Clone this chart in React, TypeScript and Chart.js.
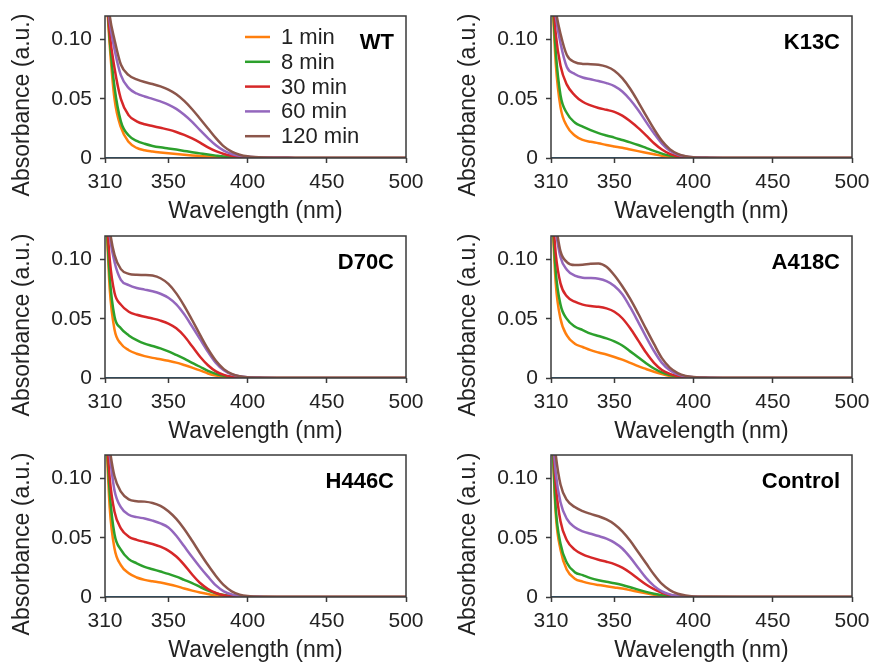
import React, { useEffect, useRef } from 'react';
import { Chart, registerables } from 'chart.js';
Chart.register(...registerables);

const wavelengths = [310, 313, 316, 320, 325, 330, 335, 340, 345, 350, 355, 360, 365, 370, 375, 380, 385, 390, 395, 400, 410, 430, 460, 500];
const xTicks = [310, 350, 400, 450, 500];
const yTicks = [0, 0.05, 0.1];
const yTickLabels = ['0', '0.05', '0.10'];
const seriesLabels = ['1 min', '8 min', '30 min', '60 min', '120 min'];
const seriesColors = ['#ff7f0e', '#2ca02c', '#d62728', '#9467bd', '#8c564b'];
const baselineColor = '#1f77b4';
const panelNames = ['WT', 'K13C', 'D70C', 'A418C', 'H446C', 'Control'];
const xTitle = 'Wavelength (nm)';
const yTitle = 'Absorbance (a.u.)';

const baseline = [0, 0, 0, 0, 0, 0, 0, 0, 0, 0, 0, 0, 0, 0, 0, 0, 0, 0, 0, 0, 0, 0, 0, 0];

const wt1 = [0.16, 0.095, 0.05, 0.026, 0.0135, 0.0085, 0.0065, 0.0055, 0.0047, 0.004, 0.0034, 0.0028, 0.0022, 0.0017, 0.0012, 0.0008, 0.0005, 0.0003, 0.0002, 0.0001, 0.0001, 0, 0, 0];
const wt8 = [0.16, 0.1, 0.06, 0.031, 0.019, 0.0145, 0.012, 0.0102, 0.009, 0.0081, 0.0071, 0.006, 0.0049, 0.0039, 0.0029, 0.002, 0.0012, 0.0007, 0.0004, 0.0002, 0.0001, 0, 0, 0];
const wt30 = [0.16, 0.105, 0.076, 0.05, 0.036, 0.031, 0.0285, 0.027, 0.0255, 0.024, 0.022, 0.0195, 0.0165, 0.013, 0.009, 0.0058, 0.0034, 0.0019, 0.001, 0.0005, 0.0002, 0.0001, 0, 0];
const wt60 = [0.16, 0.115, 0.092, 0.07, 0.059, 0.0545, 0.052, 0.05, 0.0478, 0.0452, 0.0415, 0.0365, 0.0305, 0.0235, 0.0168, 0.0107, 0.0062, 0.0034, 0.0018, 0.001, 0.0003, 0.0001, 0, 0];
const wt120 = [0.16, 0.12, 0.1, 0.079, 0.07, 0.0665, 0.0642, 0.0625, 0.0605, 0.0578, 0.0538, 0.0482, 0.0412, 0.0332, 0.025, 0.0168, 0.0098, 0.0053, 0.0028, 0.0014, 0.0004, 0.0001, 0, 0];

const k1 = [0.16, 0.08, 0.043, 0.027, 0.019, 0.0153, 0.0137, 0.0125, 0.011, 0.0098, 0.0087, 0.0072, 0.0058, 0.0045, 0.0032, 0.0018, 0.0009, 0.0004, 0.0002, 0.0001, 0, 0, 0, 0];
const k8 = [0.16, 0.09, 0.053, 0.038, 0.03, 0.0265, 0.0235, 0.021, 0.019, 0.0172, 0.0152, 0.0132, 0.011, 0.0085, 0.006, 0.0037, 0.002, 0.001, 0.0005, 0.0002, 0.0001, 0, 0, 0];
const k30 = [0.16, 0.105, 0.078, 0.062, 0.053, 0.0475, 0.0445, 0.0423, 0.0407, 0.039, 0.0358, 0.031, 0.0255, 0.0192, 0.0125, 0.0072, 0.0035, 0.0015, 0.0006, 0.0003, 0.0001, 0, 0, 0];
const k60 = [0.16, 0.12, 0.097, 0.077, 0.071, 0.068, 0.0665, 0.065, 0.0633, 0.0608, 0.0562, 0.0492, 0.0405, 0.0305, 0.0208, 0.0122, 0.0062, 0.0028, 0.0013, 0.0006, 0.0002, 0, 0, 0];
const k120 = [0.16, 0.125, 0.105, 0.087, 0.081, 0.0795, 0.0793, 0.0788, 0.0772, 0.0738, 0.0675, 0.0585, 0.0475, 0.0358, 0.0245, 0.0145, 0.0075, 0.0035, 0.0015, 0.0007, 0.0002, 0, 0, 0];

const d1 = [0.16, 0.075, 0.041, 0.029, 0.0235, 0.0205, 0.0185, 0.017, 0.0158, 0.0145, 0.013, 0.011, 0.0088, 0.0064, 0.0038, 0.002, 0.001, 0.0005, 0.0002, 0.0001, 0, 0, 0, 0];
const d8 = [0.16, 0.085, 0.052, 0.042, 0.036, 0.032, 0.029, 0.027, 0.025, 0.0225, 0.0195, 0.0163, 0.0128, 0.0095, 0.006, 0.0035, 0.0018, 0.0009, 0.0004, 0.0002, 0.0001, 0, 0, 0];
const d30 = [0.16, 0.1, 0.072, 0.062, 0.056, 0.0534, 0.0518, 0.0503, 0.0485, 0.046, 0.042, 0.0355, 0.0268, 0.018, 0.0108, 0.0056, 0.0026, 0.0011, 0.0005, 0.0002, 0.0001, 0, 0, 0];
const d60 = [0.16, 0.12, 0.098, 0.083, 0.0785, 0.076, 0.0747, 0.0733, 0.0712, 0.0678, 0.0622, 0.0538, 0.0435, 0.0328, 0.0222, 0.0128, 0.0065, 0.003, 0.0014, 0.0006, 0.0002, 0, 0, 0];
const d120 = [0.16, 0.125, 0.104, 0.092, 0.088, 0.0872, 0.0871, 0.0866, 0.0843, 0.0795, 0.0715, 0.061, 0.049, 0.0365, 0.0245, 0.0145, 0.0075, 0.0035, 0.0015, 0.0007, 0.0002, 0, 0, 0];

const a1 = [0.16, 0.08, 0.05, 0.036, 0.029, 0.0262, 0.0235, 0.0215, 0.0198, 0.0178, 0.0155, 0.0128, 0.01, 0.0076, 0.0053, 0.0033, 0.0017, 0.0008, 0.0003, 0.0001, 0, 0, 0, 0];
const a8 = [0.16, 0.09, 0.062, 0.05, 0.0435, 0.0405, 0.0375, 0.0355, 0.0335, 0.031, 0.0275, 0.0225, 0.0175, 0.0125, 0.008, 0.0047, 0.0025, 0.0012, 0.0005, 0.0002, 0.0001, 0, 0, 0];
const a30 = [0.16, 0.105, 0.08, 0.069, 0.0645, 0.062, 0.0608, 0.0602, 0.0588, 0.056, 0.0505, 0.042, 0.0318, 0.0215, 0.0128, 0.0068, 0.0035, 0.0016, 0.0007, 0.0003, 0.0001, 0, 0, 0];
const a60 = [0.16, 0.125, 0.102, 0.0915, 0.0865, 0.0848, 0.0845, 0.0838, 0.0818, 0.0778, 0.0708, 0.0598, 0.0475, 0.0348, 0.0228, 0.0128, 0.0065, 0.003, 0.0014, 0.0006, 0.0002, 0, 0, 0];
const a120 = [0.16, 0.13, 0.107, 0.098, 0.0955, 0.0958, 0.0966, 0.0968, 0.094, 0.0868, 0.0775, 0.0668, 0.0545, 0.0415, 0.0288, 0.0168, 0.0088, 0.0042, 0.0018, 0.0008, 0.0002, 0, 0, 0];

const h1 = [0.16, 0.075, 0.041, 0.027, 0.02, 0.0165, 0.0145, 0.0133, 0.0122, 0.0108, 0.0092, 0.0072, 0.0054, 0.0038, 0.0025, 0.0013, 0.0006, 0.0003, 0.0001, 0, 0, 0, 0, 0];
const h8 = [0.16, 0.088, 0.053, 0.04, 0.032, 0.0285, 0.0255, 0.0235, 0.0215, 0.0195, 0.0172, 0.0145, 0.0118, 0.0085, 0.0055, 0.0032, 0.0017, 0.0008, 0.0003, 0.0001, 0, 0, 0, 0];
const h30 = [0.16, 0.1, 0.072, 0.058, 0.051, 0.0483, 0.0465, 0.0448, 0.0425, 0.0392, 0.0342, 0.0272, 0.019, 0.0118, 0.0068, 0.0034, 0.0015, 0.0007, 0.0003, 0.0001, 0, 0, 0, 0];
const h60 = [0.16, 0.12, 0.09, 0.076, 0.0695, 0.0675, 0.0663, 0.0645, 0.0622, 0.0588, 0.0518, 0.0428, 0.0338, 0.0252, 0.0172, 0.0098, 0.0048, 0.0022, 0.001, 0.0004, 0.0001, 0, 0, 0];
const h120 = [0.16, 0.125, 0.102, 0.089, 0.0825, 0.081, 0.0806, 0.0795, 0.077, 0.0725, 0.066, 0.0575, 0.0475, 0.037, 0.027, 0.0178, 0.01, 0.0048, 0.002, 0.0008, 0.0002, 0, 0, 0];

const c1 = [0.16, 0.07, 0.04, 0.023, 0.0155, 0.013, 0.0113, 0.0101, 0.0091, 0.0081, 0.0071, 0.0058, 0.0044, 0.0031, 0.0019, 0.001, 0.0005, 0.0002, 0.0001, 0, 0, 0, 0, 0];
const c8 = [0.16, 0.075, 0.045, 0.029, 0.021, 0.0185, 0.016, 0.0142, 0.0128, 0.0117, 0.0102, 0.0083, 0.0062, 0.0043, 0.0027, 0.0015, 0.0008, 0.0004, 0.0002, 0.0001, 0, 0, 0, 0];
const c30 = [0.16, 0.095, 0.064, 0.048, 0.04, 0.036, 0.0335, 0.0315, 0.0298, 0.0278, 0.0248, 0.0205, 0.0155, 0.0106, 0.0066, 0.0036, 0.0017, 0.0008, 0.0003, 0.0001, 0, 0, 0, 0];
const c60 = [0.16, 0.105, 0.08, 0.066, 0.059, 0.0555, 0.0535, 0.0515, 0.0493, 0.046, 0.041, 0.0335, 0.0248, 0.0162, 0.0094, 0.0048, 0.0022, 0.001, 0.0004, 0.0002, 0, 0, 0, 0];
const c120 = [0.16, 0.12, 0.095, 0.082, 0.076, 0.0725, 0.0702, 0.0682, 0.0655, 0.0615, 0.0555, 0.0475, 0.038, 0.0285, 0.019, 0.011, 0.0058, 0.0027, 0.0012, 0.0005, 0.0002, 0, 0, 0];

const panelSeries = [
  [wt1, wt8, wt30, wt60, wt120],
  [k1, k8, k30, k60, k120],
  [d1, d8, d30, d60, d120],
  [a1, a8, a30, a60, a120],
  [h1, h8, h30, h60, h120],
  [c1, c8, c30, c60, c120],
];

const FONT = "'Liberation Sans', Arial, Helvetica, sans-serif";
const TEXT = '#222';
const AXIS = '#3a3a3a';
const CW = 429;
const CH = 230;
const colLeft = [0, 446];
const rowTop = [0, 220, 439];

function makeDecor(idx: number) {
  return {
    id: 'decor' + idx,
    afterDraw(chart: any) {
      const { ctx, chartArea } = chart;
      const { left, right, top, bottom } = chartArea;
      ctx.save();
      ctx.strokeStyle = AXIS;
      ctx.lineWidth = 1.5;
      ctx.strokeRect(left, top, right - left, bottom - top);
      ctx.fillStyle = '#000';
      ctx.font = `bold 22px ${FONT}`;
      ctx.textAlign = 'right';
      ctx.textBaseline = 'middle';
      ctx.fillText(panelNames[idx], right - 12, top + 27);
      ctx.save();
      ctx.translate(23, (top + bottom) / 2 + 18);
      ctx.rotate(-Math.PI / 2);
      ctx.font = `23px ${FONT}`;
      ctx.fillStyle = TEXT;
      ctx.textAlign = 'center';
      ctx.textBaseline = 'middle';
      ctx.fillText(yTitle, 0, 0);
      ctx.restore();
      if (idx === 0) {
        ctx.font = `22px ${FONT}`;
        ctx.textAlign = 'left';
        ctx.textBaseline = 'middle';
        for (let i = 0; i < seriesLabels.length; i++) {
          const y = 37 + i * 24.8;
          ctx.strokeStyle = seriesColors[i];
          ctx.lineWidth = 2.5;
          ctx.beginPath();
          ctx.moveTo(245, y);
          ctx.lineTo(270, y);
          ctx.stroke();
          ctx.fillStyle = TEXT;
          ctx.fillText(seriesLabels[i], 281, y + 1);
        }
      }
      ctx.restore();
    },
  };
}

function Panel({ idx }: { idx: number }) {
  const ref = useRef<HTMLCanvasElement>(null);
  useEffect(() => {
    if (!ref.current) return;
    const series = panelSeries[idx];
    const datasets: any[] = [
      {
        label: '0 min',
        data: wavelengths.map((x, i) => ({ x, y: baseline[i] })),
        borderColor: baselineColor,
        borderWidth: 2,
        pointRadius: 0,
        order: 10,
      },
    ];
    series.forEach((vals, s) => {
      datasets.push({
        label: seriesLabels[s],
        data: wavelengths.map((x, i) => ({ x, y: vals[i] })),
        borderColor: seriesColors[s],
        borderWidth: 2.5,
        pointRadius: 0,
        cubicInterpolationMode: 'monotone',
        order: 5 - s,
      });
    });
    const chart = new Chart(ref.current, {
      type: 'line',
      data: { datasets },
      plugins: [makeDecor(idx)],
      options: {
        animation: false,
        responsive: false,
        devicePixelRatio: 1,
        events: [],
        layout: { padding: { left: 0, top: 16, right: CW - 406, bottom: 0 } },
        plugins: { legend: { display: false }, tooltip: { enabled: false } },
        scales: {
          x: {
            type: 'linear',
            min: 310,
            max: 500,
            afterBuildTicks: (s: any) => {
              s.ticks = xTicks.map((v) => ({ value: v }));
            },
            afterFit: (s: any) => {
              s.height = CH - 158;
              s.paddingLeft = 0;
              s.paddingRight = 0;
            },
            border: { display: false },
            grid: { drawOnChartArea: false, drawTicks: true, tickLength: 5, tickColor: AXIS, tickWidth: 1.5 },
            ticks: { color: TEXT, font: { family: FONT, size: 21 }, padding: 7, maxRotation: 0, autoSkip: false, callback: (v: any) => String(v) },
            title: { display: true, text: xTitle, color: TEXT, font: { family: FONT, size: 23 }, padding: { top: 0, bottom: 5 } },
          },
          y: {
            type: 'linear',
            min: 0,
            max: 0.12,
            afterBuildTicks: (s: any) => {
              s.ticks = yTicks.map((v) => ({ value: v }));
            },
            afterFit: (s: any) => {
              s.width = 105;
              s.paddingTop = 0;
              s.paddingBottom = 0;
            },
            border: { display: false },
            grid: { drawOnChartArea: false, drawTicks: true, tickLength: 5, tickColor: AXIS, tickWidth: 1.5 },
            ticks: {
              color: TEXT,
              font: { family: FONT, size: 21 },
              padding: 8,
              autoSkip: false,
              callback: (v: any) => {
                const k = yTicks.findIndex((t) => Math.abs(t - v) < 1e-9);
                return k >= 0 ? yTickLabels[k] : '';
              },
            },
            title: { display: false },
          },
        },
      },
    } as any);
    return () => chart.destroy();
  }, [idx]);
  const col = idx % 2;
  const row = Math.floor(idx / 2);
  return (
    <canvas
      ref={ref}
      width={CW}
      height={CH}
      style={{ position: 'absolute', left: colLeft[col], top: rowTop[row], width: CW, height: CH }}
    />
  );
}

export default function App() {
  return (
    <div style={{ position: 'absolute', left: 0, top: 0, width: 875, height: 664, overflow: 'hidden', background: '#fff' }}>
      {panelNames.map((_, i) => (
        <Panel key={i} idx={i} />
      ))}
    </div>
  );
}
